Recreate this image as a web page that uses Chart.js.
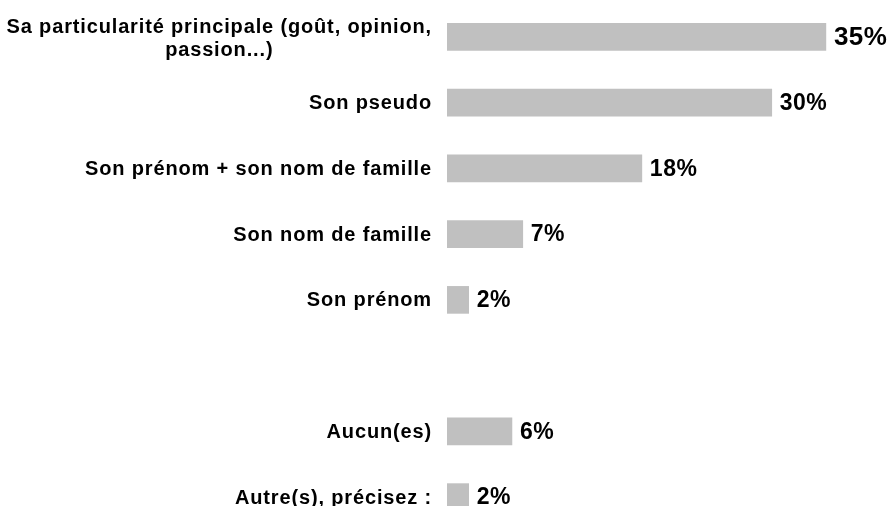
<!DOCTYPE html>
<html>
<head>
<meta charset="utf-8">
<script src="https://cdn.jsdelivr.net/npm/chart.js@4/dist/chart.umd.min.js"></script>
<style>
  html, body { margin: 0; padding: 0; background: #fff; overflow: hidden; }
  #wrap { width: 889px; height: 530px; }
</style>
</head>
<body>
<div id="wrap"><canvas id="chart" width="889" height="530"></canvas></div>
<script>
// answers (one empty row between the name answers and the rest)
const categories = [
  ['Sa particularité principale (goût, opinion,', 'passion...)'],
  ['Son pseudo'],
  ['Son prénom + son nom de famille'],
  ['Son nom de famille'],
  ['Son prénom'],
  [''],
  ['Aucun(es)'],
  ['Autre(s), précisez :']
];
const percents = [35, 30, 18, 7, 2, null, 6, 2];
const xMax = 40;

// draws the category labels and the % values next to the bars
const textPlugin = {
  id: 'textPlugin',
  afterDatasetsDraw(chart) {
    const ctx = chart.ctx;
    const yScale = chart.scales.y;
    const xScale = chart.scales.x;
    const left = chart.chartArea.left;
    ctx.save();
    ctx.fillStyle = '#000';
    ctx.textBaseline = 'middle';

    // category labels
    ctx.font = 'bold 20px "Liberation Sans", Arial, sans-serif';
    ctx.letterSpacing = '0.85px';
    categories.forEach((lines, i) => {
      const y = yScale.getPixelForValue(i);
      const right = left - 15;
      if (lines.length === 1) {
        ctx.textAlign = 'right';
        ctx.fillText(lines[0], right, y + 1);
      } else {
        const widths = lines.map(l => ctx.measureText(l).width);
        const maxW = Math.max(...widths);
        const lh = 23;
        const top = y + 2 - (lines.length - 1) * lh / 2;
        ctx.textAlign = 'center';
        lines.forEach((l, k) => {
          ctx.fillText(l, right - maxW / 2, top + k * lh);
        });
      }
    });

    // value labels, the top answer a bit larger
    ctx.letterSpacing = '0.5px';
    ctx.textAlign = 'left';
    percents.forEach((v, i) => {
      if (v === null) return;
      const x = xScale.getPixelForValue(v);
      const y = yScale.getPixelForValue(i);
      ctx.font = (i === 0 ? 'bold 26px' : 'bold 23px') + ' "Liberation Sans", Arial, sans-serif';
      ctx.fillText(v + '%', x + 8, y + 1);
    });
    ctx.restore();
  }
};

const data = {
  labels: categories,
  datasets: [{
    data: percents,
    backgroundColor: '#c0c0c0',
    borderWidth: 0,
    barThickness: 27
  }]
};

const config = {
  type: 'bar',
  data: data,
  options: {
    indexAxis: 'y',
    responsive: false,
    devicePixelRatio: 1,
    animation: false,
    layout: { padding: { left: 447, right: 9, top: 4, bottom: 0 } },
    plugins: {
      legend: { display: false },
      tooltip: { enabled: false }
    },
    scales: {
      x: { display: false, min: 0, max: xMax },
      y: { display: false }
    }
  },
  plugins: [textPlugin]
};

const chart = new Chart(document.getElementById('chart'), config);
</script>
</body>
</html>
